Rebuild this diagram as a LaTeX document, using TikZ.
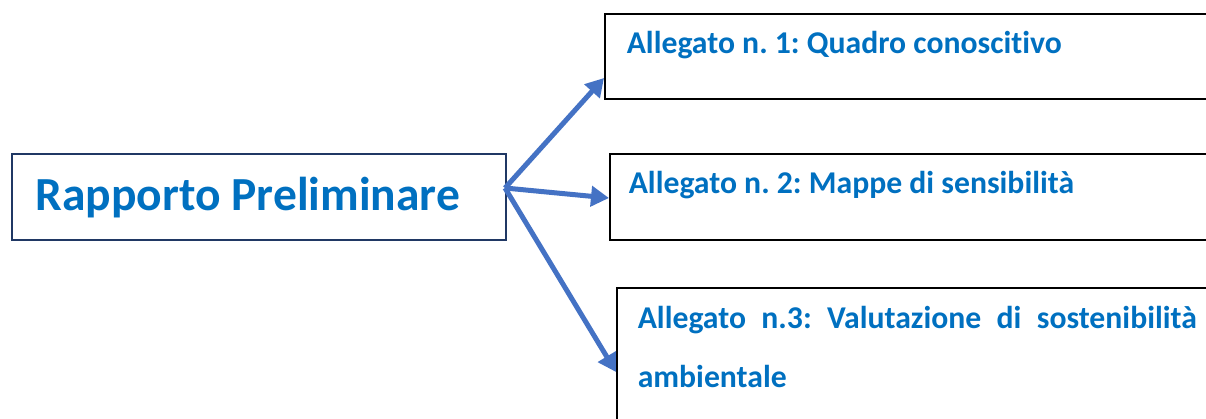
\documentclass[tikz,border=0pt]{standalone}
\usepackage{fontspec}
\setmainfont{Carlito}[Ligatures=NoCommon]
\usepackage{tikz}
\usetikzlibrary{arrows.meta}

\definecolor{titleblue}{HTML}{0070C0}
\definecolor{arrowblue}{HTML}{4472C4}
\definecolor{navyline}{HTML}{203864}

\frenchspacing
\begin{document}
\begin{tikzpicture}[x=1pt, y=-1pt, line width=1.5pt,
    box/.style={draw, minimum width=#1, inner sep=0pt, anchor=north west},
    label/.style={text=titleblue, font=\bfseries\fontsize{31.7}{59}\selectfont, inner sep=0pt, anchor=base west},
    link/.style={draw=arrowblue, line width=5pt, -{Triangle[length=18pt, width=20pt]}}]
    \useasboundingbox (0, 0) rectangle (1206, 418);
    \clip (0, 0) rectangle (1206, 418);

    % draw boxes
    \node[box=494pt, draw=navyline, minimum height=86pt] (main) at (11, 153) {};
    \node[box=640pt, line width=2pt, minimum height=85pt] (alleg1) at (604, 13) {};
    \node[box=640pt, line width=2pt, minimum height=86pt] (alleg2) at (609, 153) {};
    \node[box=640pt, line width=2pt, minimum height=160pt] (alleg3) at (616, 287) {};

    % draw texts
    \node[label, font=\bfseries\fontsize{47.5}{52}\selectfont] (maintext) at (35, 210) {Rapporto Preliminare};
    \node[label] (text1) at (626, 53) {Allegato n. 1: Quadro conoscitivo};
    \node[label] (text2) at (628, 193) {Allegato n. 2: Mappe di sensibilità};
    \node[label, align=left] (text3) at (637, 387)
        {\makebox[559pt][s]{Allegato n.3: Valutazione di sostenibilità}\\ambientale};

    % draw arrows
    \coordinate (fork) at (505, 188);
    \coordinate (end1) at (alleg1.west |- 0, 78);
    \coordinate (end2) at (alleg2.west |- 0, 198);
    \coordinate (end3) at (alleg3.west |- 0, 372);
    \draw[link] (fork) -- (end1);
    \draw[link] (fork) -- (end2);
    \draw[link] (fork) -- (end3);
\end{tikzpicture}
\end{document}
